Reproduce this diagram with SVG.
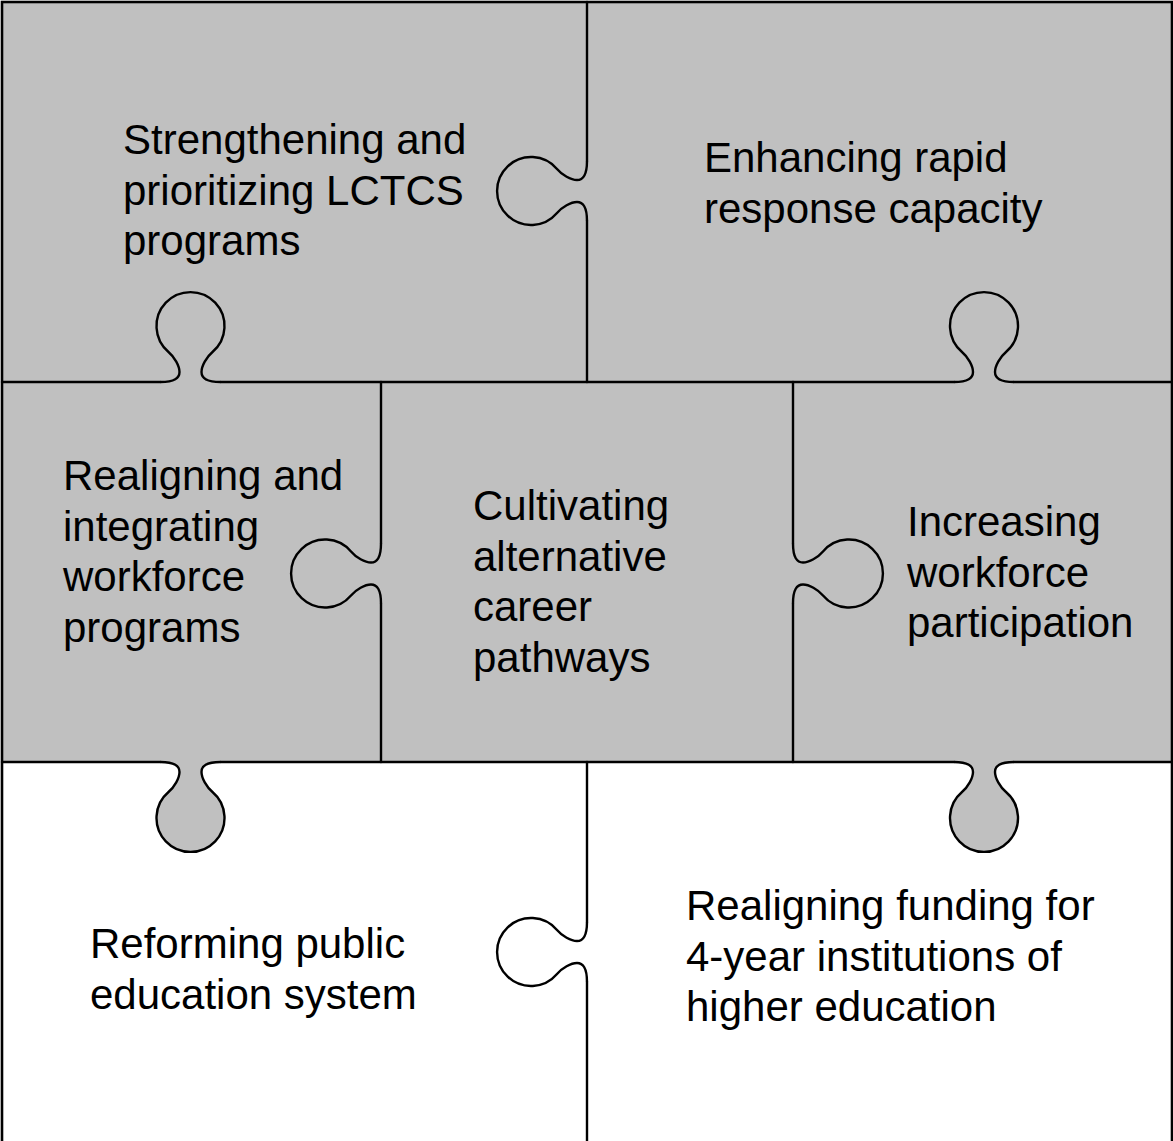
<svg xmlns="http://www.w3.org/2000/svg" xmlns:xlink="http://www.w3.org/1999/xlink" width="1173" height="1141" viewBox="0 0 1173 1141">
<style>
.cut{fill:none;stroke:#000;stroke-width:2.4;stroke-linecap:round;stroke-linejoin:round}
.kg{fill:#c0c0c0;stroke:#000;stroke-width:2.4}
.kn{fill:none;stroke:#000;stroke-width:2.4}
.lbl{font-family:"Liberation Sans",Arial,sans-serif;font-size:42px;fill:#000}
</style>
<defs>
<path id="knob" d="M -30,0 C -16,0 -11,-4 -11,-10 C -11,-16 -16,-25 -22,-30 A 34 34 0 1 1 22,-30 C 16,-25 11,-16 11,-10 C 11,-4 16,0 30,0"/>
</defs>
<rect x="2" y="2" width="1170" height="760" fill="#c0c0c0"/>
<rect x="2" y="762" width="1170" height="385" fill="#fff"/>
<g id="connectors">
<use xlink:href="#knob" class="kg" transform="translate(190.5,762) scale(1,-1)"/>
<use xlink:href="#knob" class="kg" transform="translate(984,762) scale(1,-1)"/>
<use xlink:href="#knob" class="kn" transform="translate(190.5,382)"/>
<use xlink:href="#knob" class="kn" transform="translate(984,382)"/>
<use xlink:href="#knob" class="kn" transform="translate(587,191) rotate(-90)"/>
<use xlink:href="#knob" class="kn" transform="translate(381,573.5) rotate(-90)"/>
<use xlink:href="#knob" class="kn" transform="translate(793,573.5) rotate(90)"/>
<use xlink:href="#knob" class="kn" transform="translate(587,952) rotate(-90)"/>
<path class="cut" d="M2,382 H160.5 M220.5,382 H954 M1014,382 H1172"/>
<path class="cut" d="M2,762 H160.5 M220.5,762 H954 M1014,762 H1172"/>
<path class="cut" d="M587,2 V161 M587,221 V382"/>
<path class="cut" d="M381,382 V543.5 M381,603.5 V762"/>
<path class="cut" d="M793,382 V543.5 M793,603.5 V762"/>
<path class="cut" d="M587,762 V922 M587,982 V1150"/>
<rect x="2" y="2" width="1170" height="1150" fill="none" stroke="#000" stroke-width="2.6"/>
</g>
<g id="piece-strengthening">
<text class="lbl"><tspan x="123" y="154">Strengthening and</tspan><tspan x="123" y="204.5">prioritizing LCTCS</tspan><tspan x="123" y="255">programs</tspan></text>
</g>
<g id="piece-rapid-response">
<text class="lbl"><tspan x="704" y="172">Enhancing rapid</tspan><tspan x="704" y="222.5">response capacity</tspan></text>
</g>
<g id="piece-workforce-programs">
<text class="lbl"><tspan x="63" y="490">Realigning and</tspan><tspan x="63" y="540.5">integrating</tspan><tspan x="63" y="591">workforce</tspan><tspan x="63" y="641.5">programs</tspan></text>
</g>
<g id="piece-career-pathways">
<text class="lbl"><tspan x="473" y="520">Cultivating</tspan><tspan x="473" y="570.5">alternative</tspan><tspan x="473" y="621">career</tspan><tspan x="473" y="671.5">pathways</tspan></text>
</g>
<g id="piece-participation">
<text class="lbl"><tspan x="907" y="536">Increasing</tspan><tspan x="907" y="586.5">workforce</tspan><tspan x="907" y="637">participation</tspan></text>
</g>
<g id="piece-public-education">
<text class="lbl"><tspan x="90" y="958">Reforming public</tspan><tspan x="90" y="1008.5">education system</tspan></text>
</g>
<g id="piece-funding">
<text class="lbl"><tspan x="686" y="920">Realigning funding for</tspan><tspan x="686" y="970.5">4-year institutions of</tspan><tspan x="686" y="1021">higher education</tspan></text>
</g>
</svg>
